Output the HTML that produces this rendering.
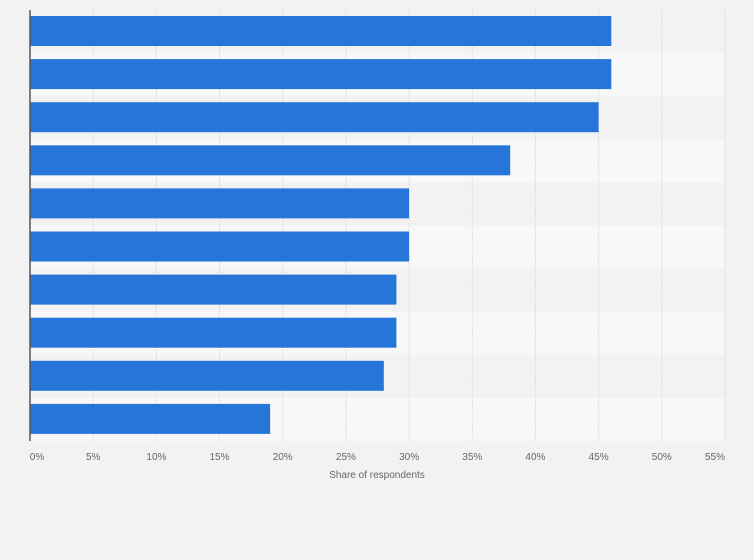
<!DOCTYPE html>
<html><head><style>
body{margin:0;background:#f2f2f2;font-family:"Liberation Sans",sans-serif;}
</style></head><body>
<svg width="754" height="560" xmlns="http://www.w3.org/2000/svg" style="display:block">
<rect width="754" height="560" fill="#f2f2f2"/>
<g fill="#f8f8f8">
<rect x="30" y="53.1" width="695" height="43.1"/>
<rect x="30" y="139.3" width="695" height="43.1"/>
<rect x="30" y="225.5" width="695" height="43.1"/>
<rect x="30" y="311.7" width="695" height="43.1"/>
<rect x="30" y="397.9" width="695" height="43.1"/>
</g>
<g stroke="#dcdcdc" stroke-dasharray="2,1" stroke-width="1">
<line x1="93.2" y1="10" x2="93.2" y2="441"/>
<line x1="156.4" y1="10" x2="156.4" y2="441"/>
<line x1="219.5" y1="10" x2="219.5" y2="441"/>
<line x1="282.7" y1="10" x2="282.7" y2="441"/>
<line x1="345.9" y1="10" x2="345.9" y2="441"/>
<line x1="409.1" y1="10" x2="409.1" y2="441"/>
<line x1="472.3" y1="10" x2="472.3" y2="441"/>
<line x1="535.4" y1="10" x2="535.4" y2="441"/>
<line x1="598.6" y1="10" x2="598.6" y2="441"/>
<line x1="661.8" y1="10" x2="661.8" y2="441"/>
<line x1="725" y1="10" x2="725" y2="441"/>
</g>
<g fill="#2675d9">
<rect x="30" y="16" width="581.3" height="30"/>
<rect x="30" y="59.1" width="581.3" height="30"/>
<rect x="30" y="102.2" width="568.6" height="30"/>
<rect x="30" y="145.3" width="480.2" height="30"/>
<rect x="30" y="188.4" width="379.1" height="30"/>
<rect x="30" y="231.5" width="379.1" height="30"/>
<rect x="30" y="274.6" width="366.4" height="30"/>
<rect x="30" y="317.7" width="366.4" height="30"/>
<rect x="30" y="360.8" width="353.8" height="30"/>
<rect x="30" y="403.9" width="240.1" height="30"/>
</g>
<line x1="30" y1="10" x2="30" y2="441" stroke="#555" stroke-width="1.5"/>
<g font-size="10" fill="#666" text-anchor="middle" font-family="Liberation Sans,sans-serif">
<text x="37" y="460">0%</text>
<text x="93.2" y="460">5%</text>
<text x="156.4" y="460">10%</text>
<text x="219.5" y="460">15%</text>
<text x="282.7" y="460">20%</text>
<text x="345.9" y="460">25%</text>
<text x="409.1" y="460">30%</text>
<text x="472.3" y="460">35%</text>
<text x="535.4" y="460">40%</text>
<text x="598.6" y="460">45%</text>
<text x="661.8" y="460">50%</text>
<text x="715" y="460">55%</text>
<text x="377" y="478">Share of respondents</text>
</g>
</svg>
</body></html>
